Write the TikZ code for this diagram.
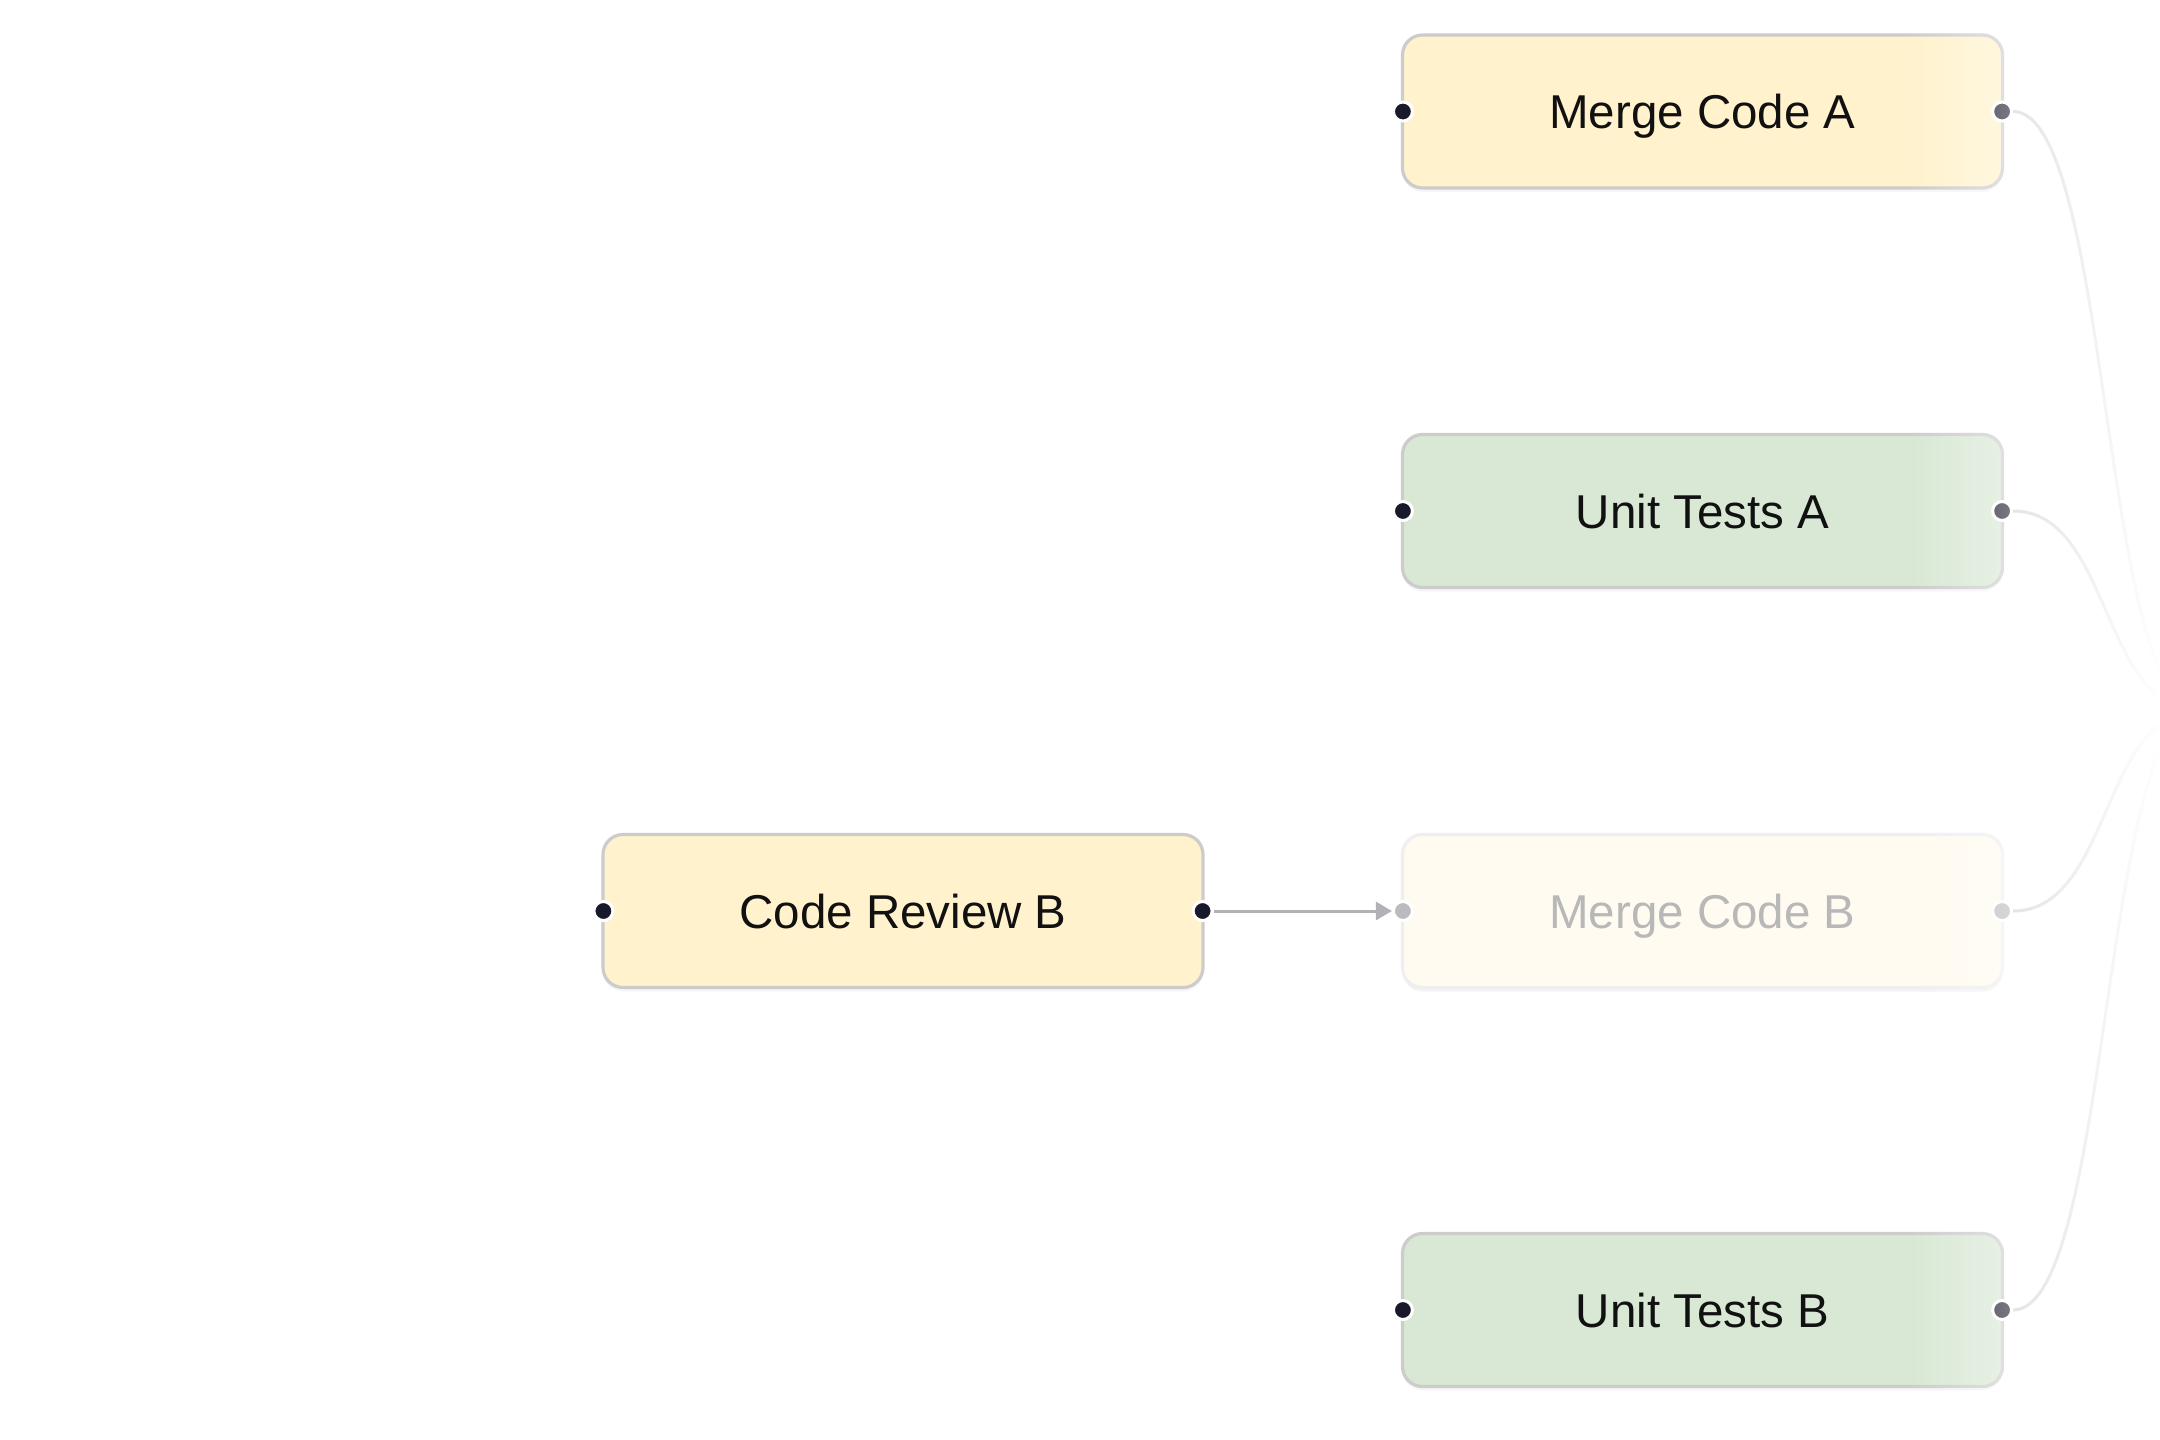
\documentclass[tikz,border=0pt]{standalone}
\usepackage{fontspec}
\setmainfont{Liberation Sans}
\usetikzlibrary{arrows.meta,shadows,fadings}
\definecolor{boxborder}{HTML}{CCCCCC}
\definecolor{yellowfill}{HTML}{FFF2CC}
\definecolor{greenfill}{HTML}{D8E8D4}
\definecolor{textdark}{HTML}{111111}
\definecolor{portdark}{HTML}{1A192B}
\definecolor{edgegray}{HTML}{D2D2D2}
\definecolor{arrowgray}{HTML}{B1B1B7}
\definecolor{fadeborder}{HTML}{EFEFEF}
\definecolor{fadefill}{HTML}{FFFBF0}
\definecolor{fadetext}{HTML}{B8B8B8}
\definecolor{fadeport}{HTML}{BABABF}
\tikzfading[name=fadeinright, left color=transparent!100, right color=transparent!0]
\begin{document}
\begin{tikzpicture}[x=1pt,y=-1pt,
  box/.style={draw=boxborder, line width=3.2pt, rounded corners=20pt,
    minimum width=600pt, minimum height=153pt, inner sep=0pt,
    text height=34pt, text depth=0pt,
    font=\fontsize{47.5}{56}\selectfont, text=textdark,
    drop shadow={shadow xshift=0pt, shadow yshift=-4pt, opacity=0.07}},
  yellowbox/.style={box, fill=yellowfill},
  greenbox/.style={box, fill=greenfill},
  fadedbox/.style={box, draw=fadeborder, fill=fadefill, text=fadetext,
    drop shadow={shadow xshift=0pt, shadow yshift=-4pt, opacity=0.02}},
  port/.style={circle, fill=portdark, draw=white, line width=3pt,
    minimum size=19pt, inner sep=0pt},
  fadedport/.style={port, fill=fadeport},
  edge/.style={draw=edgegray, line width=3pt},
  flow/.style={draw=arrowgray, line width=3pt,
    -{Triangle[length=16pt,width=18pt]}}
]
\useasboundingbox (0,0) rectangle (2160,1440);
\fill[white] (0,0) rectangle (2160,1440);

% target just outside the picture
\coordinate (T) at (2199,711);

% nodes
\node[yellowbox] (ma) at (1702.5,111.5) {Merge Code A};
\node[greenbox] (uta) at (1702.5,511) {Unit Tests A};
\node[yellowbox] (crb) at (903,911) {Code Review B};
\node[fadedbox] (mb) at (1702.5,911) {Merge Code B};
\node[greenbox] (utb) at (1702.5,1310) {Unit Tests B};

% ports
\node[port] (maL) at ([xshift=2pt]ma.west) {};
\node[port] (maR) at ([xshift=-2pt]ma.east) {};
\node[port] (utaL) at ([xshift=2pt]uta.west) {};
\node[port] (utaR) at ([xshift=-2pt]uta.east) {};
\node[port] (crbL) at ([xshift=2pt]crb.west) {};
\node[port] (crbR) at ([xshift=-2pt]crb.east) {};
\node[fadedport] (mbL) at ([xshift=2pt]mb.west) {};
\node[fadedport] (mbR) at ([xshift=-2pt]mb.east) {};
\node[port] (utbL) at ([xshift=2pt]utb.west) {};
\node[port] (utbR) at ([xshift=-2pt]utb.east) {};

% connectors
\draw[edge] (maR.east) .. controls +(98,0) and +(-98,0) .. (T);
\draw[edge] (utaR.east) .. controls +(98,0) and +(-98,0) .. (T);
\draw[edge] (mbR.east) .. controls +(98,0) and +(-98,0) .. (T);
\draw[edge] (utbR.east) .. controls +(98,0) and +(-98,0) .. (T);
\draw[flow] (crbR) -- (mbL);

% fade towards the right edge
\fill[white, path fading=fadeinright] (1905,-1) rectangle (2161,1441);
\end{tikzpicture}
\end{document}
